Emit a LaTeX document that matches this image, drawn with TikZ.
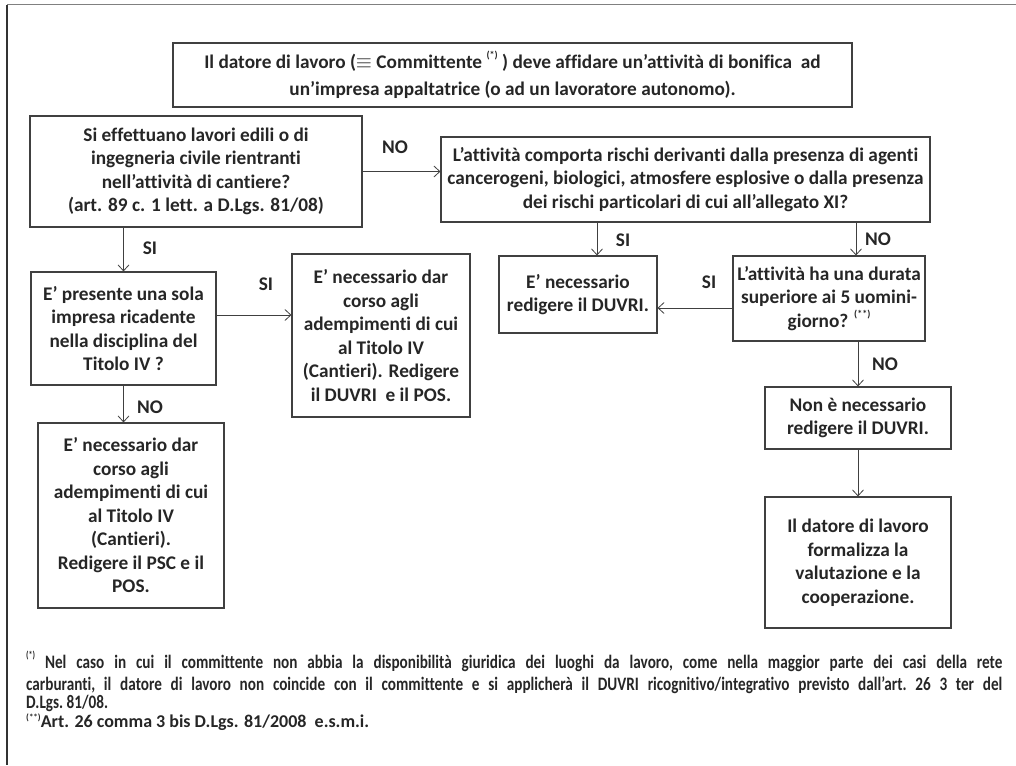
\documentclass[tikz,border=0pt]{standalone}
\usepackage{fontspec}
\setmainfont{Carlito}[Ligatures={NoCommon,NoContextual}]
\newfontfamily\narrowfont{Carlito}[FakeStretch=0.8,Ligatures={NoCommon,NoContextual}]
\usetikzlibrary{arrows.meta,calc}
\definecolor{ink}{HTML}{262626}
\definecolor{boxc}{HTML}{404040}
\newcommand\fnm[1]{\raisebox{0.5em}{\fontsize{10}{10}\selectfont #1}}
\newcommand\fnl[1]{\raisebox{0.35em}{\fontsize{9}{9}\selectfont #1}}
\newcommand\fsmain{\fontsize{19.3}{23.5}\selectfont\bfseries}
\newcommand\fsnote{\fontsize{19}{22}\selectfont\bfseries\frenchspacing}
\tikzset{
  box/.style={draw=boxc, line width=1.1pt, inner sep=0pt, align=center,
    text=ink, font=\fsmain},
  lbl/.style={text=ink, font=\fsmain, inner sep=0pt},
  arr/.style={draw=boxc, line width=0.8pt,
    -{Straight Barb[length=6pt,width=11pt,line width=0.8pt]}},
  note/.style={text=ink, font=\fsnote, inner sep=0pt, anchor=base west}
}
\begin{document}
\begin{tikzpicture}[x=1pt,y=-1pt]
\useasboundingbox (0,0) rectangle (1016,765);
% page frame
\draw[line width=1pt, gray] (7,5) -- (1016,5);
\draw[line width=1.2pt, black!80] (7,5) -- (7,765);

% boxes
\node[box, minimum width=679pt, minimum height=64pt, font=\fontsize{19.3}{27}\selectfont\bfseries] (top) at (512.5,75)
  {Il datore di lavoro ($\equiv$ Committente \fnm{(*)} ) deve affidare un’attività di bonifica\ \ ad\\
   un’impresa appaltatrice (o ad un lavoratore autonomo).};
\node[box, minimum width=332pt, minimum height=111pt] (A) at (196,171.5)
  {Si effettuano lavori edili o di\\ ingegneria civile rientranti\\ nell’attività di cantiere?\\ (art. 89 c. 1 lett. a D.Lgs. 81/08)};
\node[box, minimum width=489pt, minimum height=85pt] (B) at (685.5,179.5)
  {L’attività comporta rischi derivanti dalla presenza di agenti\\ cancerogeni, biologici, atmosfere esplosive o dalla presenza\\ dei rischi particolari di cui all’allegato XI?};
\node[box, minimum width=185pt, minimum height=113pt] (C) at (123.5,328.5)
  {E’ presente una sola\\ impresa ricadente\\ nella disciplina del\\ Titolo IV ?};
\node[box, minimum width=178pt, minimum height=163pt] (D) at (381,335.5)
  {E’ necessario dar\\ corso agli\\ adempimenti di cui\\ al Titolo IV\\ (Cantieri). Redigere\\ il DUVRI\ \ e il POS.};
\node[box, minimum width=186pt, minimum height=185pt] (E) at (131,515.5)
  {E’ necessario dar\\ corso agli\\ adempimenti di cui\\ al Titolo IV\\ (Cantieri).\\ Redigere il PSC e il\\ POS.};
\node[box, minimum width=158pt, minimum height=77pt] (F) at (578,294.5)
  {E’ necessario\\ redigere il DUVRI.};
\node[box, minimum width=192pt, minimum height=85pt] (G) at (829,298.5)
  {L’attività ha una durata\\ superiore ai 5 uomini-\\ giorno? \fnm{(**)}};
\node[box, minimum width=186pt, minimum height=62pt] (H) at (858,418)
  {Non è necessario\\ redigere il DUVRI.};
\node[box, minimum width=186pt, minimum height=131pt] (I) at (858,562.5)
  {Il datore di lavoro\\ formalizza la\\ valutazione e la\\ cooperazione.};

% entry points of the two arrows leaving the risk question
\coordinate (Fin) at ($(F.north)+(19,0)$);
\coordinate (Gin) at ($(G.north)+(27,0)$);

% connectors
\draw[arr] (A.east) -- (A.east -| B.west);
\draw[arr] (C.north |- A.south) -- (C.north);
\draw[arr] (C.east |- 0,315) -- (D.west |- 0,315);
\draw[arr] (C.south) -- (C.south |- E.north);
\draw[arr] (Fin |- B.south) -- (Fin);
\draw[arr] (Gin |- B.south) -- (Gin);
\draw[arr] (G.west |- 0,308) -- (F.east |- 0,308);
\draw[arr] (H.north |- G.south) -- (H.north);
\draw[arr] (H.south) -- (I.north);

% connector labels
\node[lbl] (lAB) at (395,147) {NO};
\node[lbl] (lAC) at (150,248) {SI};
\node[lbl] (lCD) at (266,284) {SI};
\node[lbl] (lCE) at (150,407) {NO};
\node[lbl] (lBF) at (623,240) {SI};
\node[lbl] (lBG) at (878,239) {NO};
\node[lbl] (lGF) at (709,282) {SI};
\node[lbl] (lGH) at (885,364) {NO};

% footnotes
\node[note] (n1) at (26,668) {\narrowfont\makebox[976pt][s]{\fnm{(*)} Nel caso in cui il committente non abbia la disponibilità giuridica dei luoghi da lavoro, come nella maggior parte dei casi della rete}};
\node[note] (n2) at (26,690) {\narrowfont\makebox[976pt][s]{carburanti, il datore di lavoro non coincide con il committente e si applicherà il DUVRI ricognitivo/integrativo previsto dall’art. 26 3 ter del}};
\node[note] (n3) at (26,708) {\narrowfont D.Lgs. 81/08.};
\node[note, font=\fontsize{18}{20}\selectfont\bfseries] (n4) at (26,727) {\fnl{(**)}Art. 26 comma 3 bis D.Lgs. 81/2008\ \ e.s.m.i.};
\end{tikzpicture}
\end{document}
